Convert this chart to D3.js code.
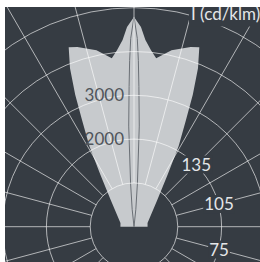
<!DOCTYPE html>
<html><head><meta charset="utf-8">
<script src="https://cdn.jsdelivr.net/npm/d3@7"></script>
<style>html,body{margin:0;padding:0;background:#fff;}svg{display:block;}</style>
</head><body>
<svg id="chart" width="260" height="262"></svg>
<script>
// Gamma angles (0 = down, 90 = horizontal, 180 = up) and intensities in cd/klm
const gammaMain = [90, 105, 139, 147, 151, 154, 156, 158, 160, 162.5, 168, 172.5, 174.5, 176.5, 178, 180];
const intensityMain = [310, 320, 810, 1400, 2100, 2700, 3300, 3900, 4360, 4300, 4120, 3880, 4050, 4270, 4560, 4790];
const gammaNarrow = [170, 174, 175.5, 177, 178, 178.5, 179, 180];
const intensityNarrow = [0, 400, 1000, 2300, 3200, 3800, 4300, 4790];
const ringValues = [1000, 2000, 3000, 4000, 5000];
const ringLabels = ["2000", "3000"];
const angleLabels = ["75", "105", "135"];
const spokeAngles = d3.range(0, 360, 15);
const unitLabel = "I (cd/klm)";

const W = 260, H = 262;
const cx = 134, cy = 226.7;
const bg = "#363c43";
const svg = d3.select("#chart");
const r = d3.scaleLinear().domain([0, 5000]).range([0, 219]);
const rad = d => d * Math.PI / 180;

const defs = svg.append("defs");
defs.append("clipPath").attr("id", "clip").append("rect").attr("x", 5).attr("y", 7).attr("width", 255).attr("height", 255);
svg.append("rect").attr("x", 5).attr("y", 7).attr("width", 255).attr("height", 255).attr("fill", bg);

const g = svg.append("g").attr("clip-path", "url(#clip)");
const c = g.append("g").attr("transform", `translate(${cx},${cy})`);

function mirrored(gs, is, withCenter) {
  const pts = [];
  if (withCenter) pts.push({a: 0, v: 0});
  gs.forEach((gm, k) => pts.push({a: rad(gm - 180), v: is[k]}));
  for (let k = gs.length - 1; k >= 0; k--) {
    if (gs[k] === 180) continue;
    pts.push({a: rad(180 - gs[k]), v: is[k]});
  }
  return pts;
}
const radial = d3.lineRadial().angle(d => d.a).radius(d => r(d.v)).curve(d3.curveLinearClosed);

// filled distribution
c.append("path").attr("d", radial(mirrored(gammaMain, intensityMain, true)))
  .attr("fill", "#c7cacd").attr("stroke", "none");

// narrow plane curve
c.append("path").attr("d", radial(mirrored(gammaNarrow, intensityNarrow, false)))
  .attr("fill", "none").attr("stroke", "#6a6f75").attr("stroke-width", 1);

// grid
const grid = c.append("g").attr("stroke", "#ffffff").attr("stroke-opacity", 0.62).attr("fill", "none").attr("stroke-width", 1);
ringValues.forEach(v => grid.append("circle").attr("r", r(v)));
spokeAngles.forEach(a => {
  const t = rad(a);
  grid.append("line")
    .attr("x1", r(1000) * Math.sin(t)).attr("y1", -r(1000) * Math.cos(t))
    .attr("x2", 400 * Math.sin(t)).attr("y2", -400 * Math.cos(t));
});

// intensity labels
const font = "Lato, 'Open Sans', sans-serif";
ringLabels.forEach(l => {
  c.append("text").attr("x", -10).attr("y", -r(+l)).attr("dy", "0.36em")
    .attr("text-anchor", "end").attr("font-family", font).attr("font-size", 17)
    .attr("fill", "#50555b").text(l);
});

// angle labels with background boxes
angleLabels.forEach(l => {
  const gm = +l;
  const t = rad(180 - gm);
  const x = 88 * Math.sin(t), y = -88 * Math.cos(t);
  const lg = c.append("g");
  const box = lg.append("rect").attr("fill", bg);
  const tx = lg.append("text").attr("x", x).attr("y", y).attr("dy", "0.36em")
    .attr("text-anchor", "middle").attr("font-family", font).attr("font-size", 17)
    .attr("fill", "#e4e6e8").text(l);
  const bb = tx.node().getBBox();
  box.attr("x", bb.x - 1).attr("y", bb.y + 2).attr("width", bb.width + 2).attr("height", bb.height - 3);
});

// unit label
const ug = g.append("g");
const ubox = ug.append("rect").attr("fill", bg);
const ut = ug.append("text").attr("x", 191).attr("y", 19.5)
  .attr("font-family", font).attr("font-size", 17).attr("fill", "#e4e6e8").text(unitLabel);
const ubb = ut.node().getBBox();
ubox.attr("x", ubb.x - 2).attr("y", 0).attr("width", 100).attr("height", ubb.y + ubb.height + 3);
</script>
</body></html>
